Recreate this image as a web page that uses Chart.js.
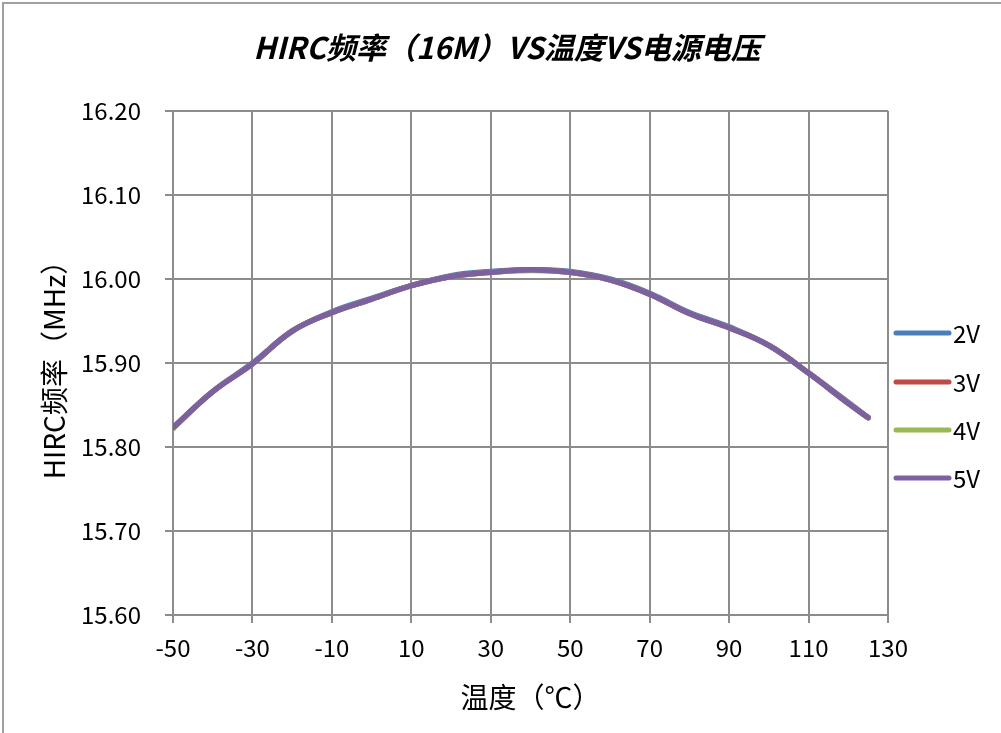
<!DOCTYPE html>
<html>
<head>
<meta charset="utf-8">
<script src="https://cdn.jsdelivr.net/npm/chart.js@4.4.0/dist/chart.umd.min.js"></script>
<style>
  html, body { margin: 0; padding: 0; background: #ffffff; }
  #wrap { position: relative; width: 1001px; height: 733px; }
  canvas { display: block; }
</style>
</head>
<body>
<div id="wrap"><canvas id="c" width="1001" height="733"></canvas></div>
<script>
// ---- data ----
const chartTitle = 'HIRC频率（16M）VS温度VS电源电压';
const xTitle = '温度（℃）';
const yTitle = 'HIRC频率（MHz）';
const temps = [-50, -40, -30, -20, -10, 0, 10, 20, 30, 40, 50, 60, 70, 80, 90, 100, 110, 120, 125];
const v2 = [15.823, 15.866, 15.900, 15.938, 15.961, 15.977, 15.992, 16.004, 16.009, 16.011, 16.009, 16.000, 15.983, 15.960, 15.943, 15.921, 15.888, 15.853, 15.835];
const v3 = [15.823, 15.866, 15.899, 15.938, 15.960, 15.976, 15.992, 16.003, 16.008, 16.011, 16.008, 15.999, 15.982, 15.959, 15.942, 15.921, 15.888, 15.852, 15.835];
const v4 = [15.822, 15.866, 15.899, 15.938, 15.960, 15.976, 15.992, 16.003, 16.008, 16.010, 16.008, 15.999, 15.982, 15.959, 15.942, 15.921, 15.888, 15.852, 15.835];
const v5 = [15.823, 15.866, 15.899, 15.938, 15.960, 15.976, 15.992, 16.003, 16.008, 16.011, 16.008, 15.999, 15.982, 15.959, 15.942, 15.921, 15.888, 15.852, 15.835];
const seriesNames = ['2V', '3V', '4V', '5V'];
const seriesValues = [v2, v3, v4, v5];
const seriesColors = ['#4a7ebb', '#be4b48', '#98b954', '#7d60a0'];
const xMin = -50, xMax = 130, xStep = 20;
const yMin = 15.6, yMax = 16.2, yStep = 0.1;

const FONT = '"Noto Sans CJK SC", "Noto Sans", sans-serif';
const gridColor = '#8c8c8c';

const datasets = seriesNames.map((name, i) => ({
  label: name,
  data: temps.map((t, k) => ({ x: t, y: seriesValues[i][k] })),
  borderColor: seriesColors[i],
  backgroundColor: seriesColors[i],
  borderWidth: 5.5,
  pointRadius: 0,
  tension: 0.4,
  borderCapStyle: 'round',
  fill: false,
  order: seriesNames.length - i
}));

const decorPlugin = {
  id: 'decor',
  beforeDraw(chart) {
    const ctx = chart.ctx;
    ctx.save();
    ctx.fillStyle = '#ffffff';
    ctx.fillRect(0, 0, chart.width, chart.height);
    ctx.strokeStyle = '#a0a0a0';
    ctx.lineWidth = 2;
    ctx.beginPath();
    ctx.moveTo(3, chart.height + 5);
    ctx.lineTo(3, 3);
    ctx.lineTo(chart.width + 5, 3);
    ctx.stroke();
    ctx.restore();
  },
  afterDraw(chart) {
    const ctx = chart.ctx;
    ctx.save();
    // title
    ctx.fillStyle = '#000000';
    ctx.font = 'italic bold 30px ' + FONT;
    ctx.textAlign = 'center';
    ctx.textBaseline = 'middle';
    ctx.fillText(chartTitle, 507, 48);
    // legend
    const ys = [333, 382, 430, 478];
    chart.data.datasets.forEach((ds, i) => {
      const y = ys[i];
      ctx.strokeStyle = ds.borderColor;
      ctx.lineWidth = 5;
      ctx.lineCap = 'round';
      ctx.beginPath();
      ctx.moveTo(896, y);
      ctx.lineTo(949, y);
      ctx.stroke();
      ctx.fillStyle = '#000000';
      ctx.font = '24px ' + FONT;
      ctx.textAlign = 'left';
      ctx.textBaseline = 'middle';
      ctx.fillText(ds.label, 953, y + 1);
    });
    ctx.restore();
  }
};

new Chart(document.getElementById('c'), {
  type: 'line',
  data: { datasets },
  options: {
    responsive: false,
    animation: false,
    devicePixelRatio: 1,
    layout: { padding: { left: 38, top: 111, right: 113, bottom: 19 } },
    plugins: {
      legend: { display: false },
      title: { display: false },
      tooltip: { enabled: false }
    },
    scales: {
      x: {
        type: 'linear',
        min: xMin, max: xMax,
        afterFit(scale) { scale.height = 733 - 19 - 615; },
        ticks: {
          stepSize: xStep,
          color: '#000000',
          font: { family: FONT, size: 24 },
          padding: 10,
          maxRotation: 0
        },
        grid: { color: gridColor, lineWidth: 2, tickLength: 8, drawTicks: true },
        border: { color: gridColor, width: 2 },
        title: {
          display: true,
          text: xTitle,
          color: '#000000',
          font: { family: FONT, size: 28, lineHeight: 1.2 },
          padding: 0
        }
      },
      y: {
        min: yMin, max: yMax,
        afterFit(scale) { scale.width = 173 - 38; },
        ticks: {
          stepSize: yStep,
          color: '#000000',
          font: { family: FONT, size: 24 },
          padding: 24,
          callback: (v) => Number(v).toFixed(2)
        },
        grid: { color: gridColor, lineWidth: 2, tickLength: 8, drawTicks: true },
        border: { color: gridColor, width: 2 },
        title: {
          display: true,
          text: yTitle,
          color: '#000000',
          font: { family: FONT, size: 28, lineHeight: 1.2 },
          padding: 0
        }
      }
    }
  },
  plugins: [decorPlugin]
});
</script>
</body>
</html>
